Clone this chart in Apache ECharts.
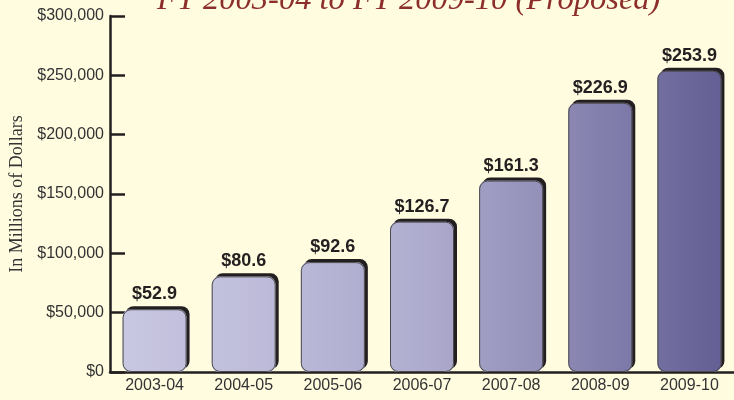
<!DOCTYPE html>
<html>
<head>
<meta charset="utf-8">
<script src="https://cdn.jsdelivr.net/npm/echarts@6/dist/echarts.min.js"></script>
<style>
  html, body { margin: 0; padding: 0; background: #fffce0; }
  #chart { width: 734px; height: 400px; }
</style>
</head>
<body>
<div id="chart"></div>
<script>
// fiscal years and spending (millions of dollars)
const years = ['2003-04', '2004-05', '2005-06', '2006-07', '2007-08', '2008-09', '2009-10']
const spending = [52900, 80600, 92600, 126700, 161300, 226900, 253900]
const yTicks = [0, 50000, 100000, 150000, 200000, 250000, 300000]

// bar shades, light lavender to dark purple (left/right stop of each bar)
const barShades = [
  ['#c8c7e1', '#c2c0dc'],
  ['#c3c2de', '#bbb9d7'],
  ['#bab8d7', '#b0aed0'],
  ['#b4b2d3', '#a8a5c9'],
  ['#a19ec4', '#9390b9'],
  ['#8b87b2', '#7c78a8'],
  ['#726ea0', '#645f94']
]

const chart = echarts.init(document.getElementById('chart'))

const barData = spending.map((v, i) => ({
  value: v,
  itemStyle: {
    color: new echarts.graphic.LinearGradient(0, 0, 1, 0, [
      { offset: 0, color: barShades[i][0] },
      { offset: 1, color: barShades[i][1] }
    ])
  }
}))

chart.setOption({
  backgroundColor: '#fffce0',
  animation: false,
  title: {
    text: 'FY 2003-04 to FY 2009-10 (Proposed)',
    left: 152,
    top: -21,
    textStyle: {
      fontFamily: 'Liberation Serif',
      fontStyle: 'italic',
      fontWeight: 'normal',
      fontSize: 32.5,
      color: '#8c2e2a'
    }
  },
  grid: { left: 109, right: -4, top: 16, bottom: 28 },
  xAxis: {
    type: 'category',
    data: years,
    axisLine: { lineStyle: { color: '#231f20', width: 2.5 } },
    axisTick: { inside: true, length: 10, interval: 0, lineStyle: { color: '#231f20', width: 2.5 } },
    axisLabel: { margin: 6, fontFamily: 'Liberation Sans', fontSize: 16, color: '#333' }
  },
  yAxis: {
    type: 'value',
    min: 0,
    max: 300000,
    interval: 50000,
    name: 'In Millions of Dollars',
    nameLocation: 'middle',
    nameRotate: 90,
    nameGap: 84,
    nameTextStyle: { fontFamily: 'Liberation Serif', fontSize: 18, color: '#333' },
    axisLine: { show: true, lineStyle: { color: '#231f20', width: 2.5 } },
    axisTick: { show: true, inside: true, length: 15, lineStyle: { color: '#231f20', width: 2.5 } },
    splitLine: { show: false },
    axisLabel: {
      margin: 6,
      fontFamily: 'Liberation Sans',
      fontSize: 16,
      color: '#333',
      formatter: v => yTicks.includes(v) ? '$' + v.toLocaleString('en-US') : ''
    }
  },
  series: [
    {
      // filled bars with the dark offset shadow
      type: 'bar',
      data: barData,
      barWidth: 64,
      itemStyle: {
        borderWidth: 0,
        borderRadius: 8,
        shadowColor: '#231f20',
        shadowBlur: 0,
        shadowOffsetX: 3,
        shadowOffsetY: -3
      },
      label: {
        show: true,
        position: 'top',
        distance: 6,
        fontFamily: 'Liberation Sans',
        fontWeight: 'bold',
        fontSize: 18,
        color: '#231f20',
        formatter: p => '$' + (p.value / 1000).toFixed(1)
      }
    },
    {
      // thin outline drawn over the same bars
      type: 'bar',
      data: spending,
      barWidth: 64,
      barGap: '-100%',
      silent: true,
      itemStyle: {
        color: 'rgba(0,0,0,0)',
        borderColor: '#4a4a4a',
        borderWidth: 1,
        borderRadius: 8
      }
    }
  ]
})
</script>
</body>
</html>
